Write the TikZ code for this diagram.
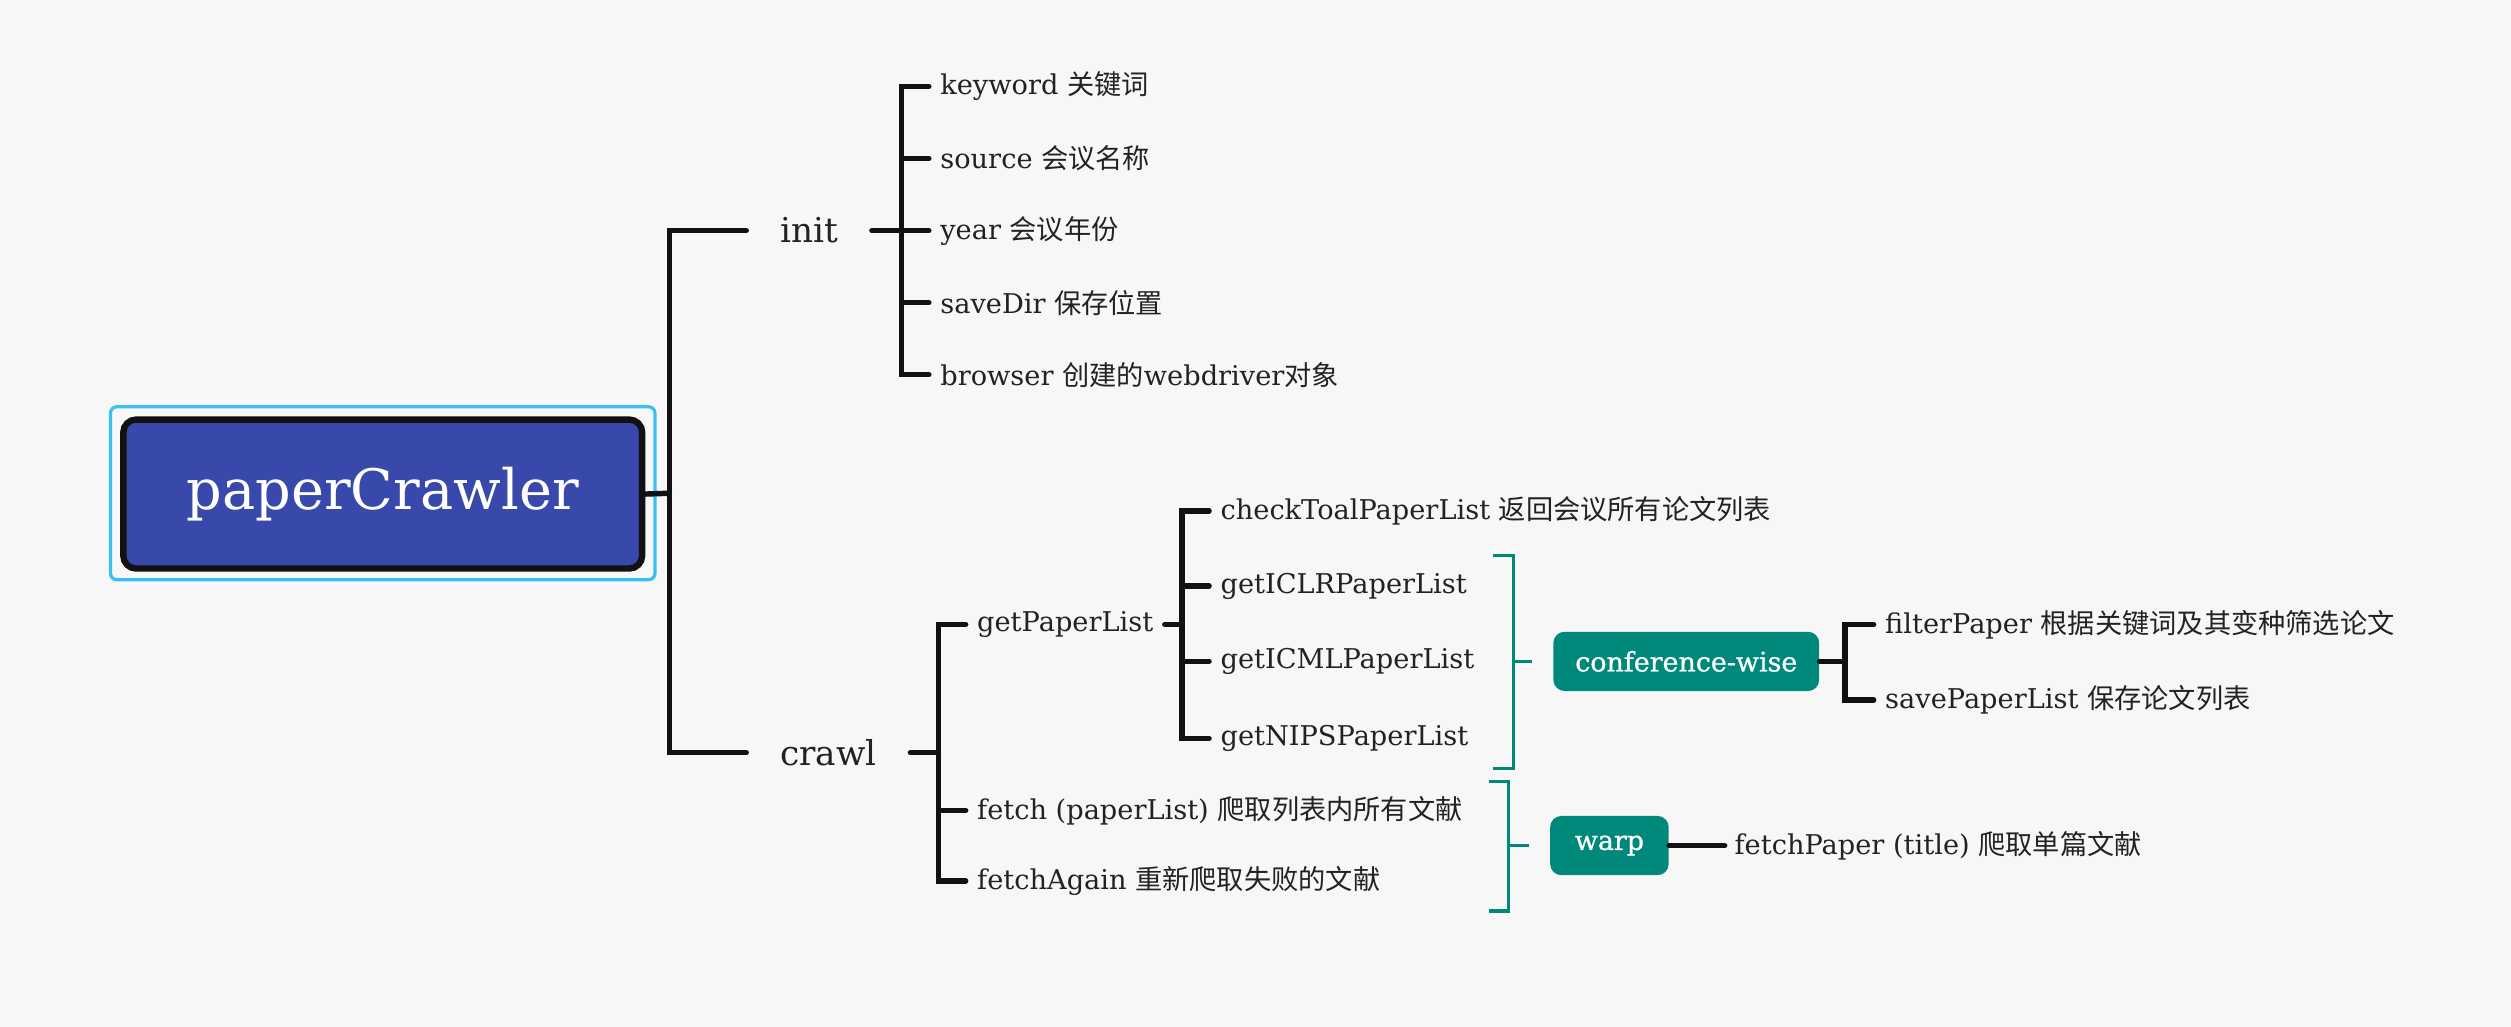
\documentclass[tikz,border=0pt]{standalone}
\usepackage{fontspec}
\setmainfont{DejaVu Serif}
\newfontfamily\groupfont{DejaVu Serif}[FakeBold=0.8]
\newfontfamily\cjk{Noto Sans CJK SC}
\usepackage{tikz}
\definecolor{bgcol}{HTML}{F7F7F7}
\definecolor{rootfill}{HTML}{3949AB}
\definecolor{selcol}{HTML}{3CBEF0}
\definecolor{tealcol}{HTML}{00897B}
\definecolor{linecol}{HTML}{111111}
\definecolor{txtcol}{HTML}{222222}
\tikzset{
  rootbox/.style={draw=linecol,line width=4pt,fill=rootfill,rounded corners=8pt,
    text=white,minimum width=324pt,minimum height=93pt,inner sep=0pt,
    font=\fontsize{34.8pt}{40pt}\selectfont},
  topic/.style={anchor=west,inner xsep=21pt,inner ysep=0pt,text=txtcol,
    font=\fontsize{21.4pt}{26pt}\selectfont},
  leaf/.style={anchor=west,inner xsep=7pt,inner ysep=0pt,text=txtcol,
    font=\fontsize{17pt}{20pt}\selectfont},
  groupbox/.style={fill=tealcol,rounded corners=7pt,text=white,inner sep=0pt,
    minimum height=37pt,font=\groupfont\fontsize{16.8pt}{20pt}\selectfont},
  link/.style={draw=linecol,line width=3.4pt,line cap=round},
  bracket/.style={draw=tealcol,line width=2.2pt}
}
\begin{document}
\begin{tikzpicture}[x=1pt,y=-1pt]
  \fill[bgcol] (0,0) rectangle (1568,641);
  \useasboundingbox (0,0) rectangle (1568,641);
  % root
  \node[rootbox] (root) at (239,308.5) {paperCrawler};
  \draw[selcol,line width=2pt,rounded corners=4pt]
    ([xshift=-6pt,yshift=6pt]root.north west) rectangle ([xshift=6pt,yshift=-5pt]root.south east);
  % first level
  \node[topic] (init) at (466,144) {init};
  \node[topic] (crawl) at (466,470) {crawl};
  \coordinate (j0) at (418,308);
  \draw[link] (root.east) -- (j0);
  \draw[link] (j0) |- (init.west);
  \draw[link] (j0) |- (crawl.west);
  % init
  \node[leaf] (keyword) at (580,54) {keyword {\cjk 关键词}};
  \node[leaf] (source) at (580,99) {source {\cjk 会议名称}};
  \node[leaf] (year) at (580,144) {year {\cjk 会议年份}};
  \node[leaf] (savedir) at (580,189) {saveDir {\cjk 保存位置}};
  \node[leaf] (browser) at (580,234) {browser {\cjk 创建的}webdriver{\cjk 对象}};
  \coordinate (j1) at (563,144);
  \draw[link] (init.east) -- (j1);
  \foreach \n in {keyword,source,year,savedir,browser}
    \draw[link] (j1) |- (\n.west);
  % crawl
  \node[leaf] (getlist) at (603,390) {getPaperList};
  \node[leaf] (fetch) at (603,506) {fetch (paperList) {\cjk 爬取列表内所有文献}};
  \node[leaf] (fetchagain) at (603,550) {fetchAgain {\cjk 重新爬取失败的文献}};
  \coordinate (j2) at (586,470);
  \draw[link] (crawl.east) -- (j2);
  \foreach \n in {getlist,fetch,fetchagain}
    \draw[link] (j2) |- (\n.west);
  % getPaperList
  \node[leaf] (checktotal) at (755,319) {checkToalPaperList {\cjk 返回会议所有论文列表}};
  \node[leaf] (iclr) at (755,366) {getICLRPaperList};
  \node[leaf] (icml) at (755,413) {getICMLPaperList};
  \node[leaf] (nips) at (755,461) {getNIPSPaperList};
  \coordinate (j3) at (738,390);
  \draw[link] (getlist.east) -- (j3);
  \foreach \n in {checktotal,iclr,icml,nips}
    \draw[link] (j3) |- (\n.west);
  % conference-wise
  \node[groupbox,minimum width=166pt] (confwise) at (1053,413) {conference-wise};
  \draw[bracket] (932,347) -- (945,347) -- (945,480) -- (932,480);
  \draw[bracket] (945,413) -- ([xshift=-13pt]confwise.west);
  \node[leaf] (filter) at (1170,390) {filterPaper {\cjk 根据关键词及其变种筛选论文}};
  \node[leaf] (savelist) at (1170,437) {savePaperList {\cjk 保存论文列表}};
  \coordinate (j4) at (1152,413);
  \draw[link] (confwise.east) -- (j4);
  \foreach \n in {filter,savelist}
    \draw[link] (j4) |- (\n.west);
  % warp
  \node[groupbox,minimum width=74pt] (warp) at (1005,528) {warp};
  \draw[bracket] (930,488) -- (942,488) -- (942,569) -- (930,569);
  \draw[bracket] (942,528) -- ([xshift=-13pt]warp.west);
  \node[leaf,inner xsep=6pt] (fetchpaper) at (1077,528) {fetchPaper (title) {\cjk 爬取单篇文献}};
  \draw[link] (warp.east) -- (fetchpaper.west);
\end{tikzpicture}
\end{document}
